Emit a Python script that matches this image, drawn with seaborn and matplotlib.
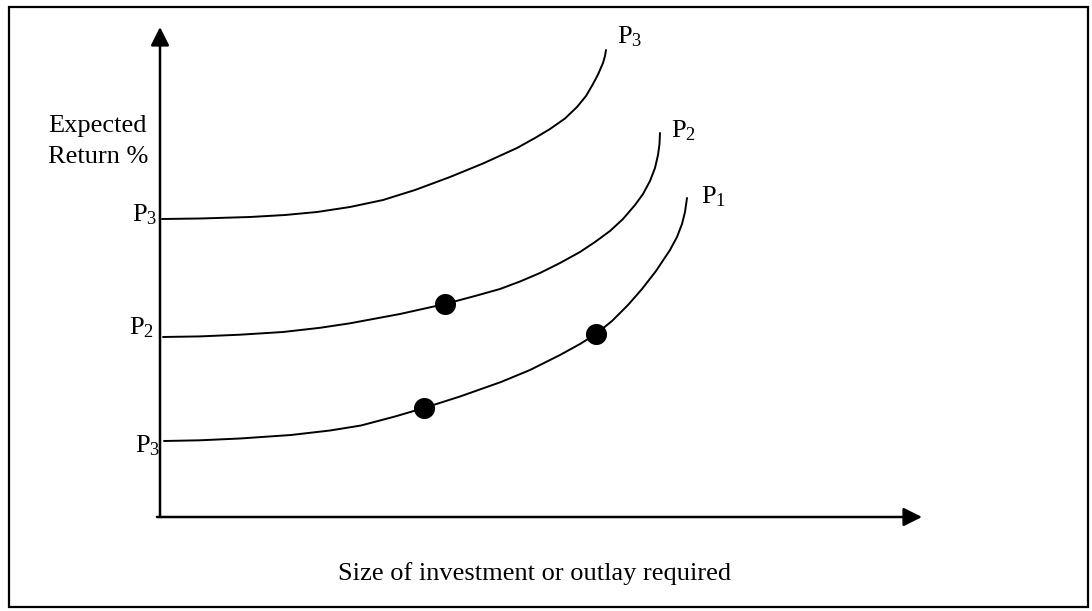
import numpy as np
import pandas as pd
import matplotlib
matplotlib.use('Agg')
import matplotlib.pyplot as plt
from matplotlib.patches import Rectangle
import seaborn as sns

# %% curve values (arbitrary units: size vs return)
p3_x = [0.2, 4.0, 9.0, 12.5, 15.7, 19.0, 22.3, 25.5, 29.0, 32.3, 35.7, 37.5,
        39.0, 40.5, 41.7, 42.6, 43.3, 43.8, 44.3, 44.5, 44.6]
p3_y = [29.8, 29.85, 30.0, 30.2, 30.5, 31.0, 31.7, 32.7, 34.0, 35.35, 36.9,
        37.9, 38.8, 39.85, 41.0, 42.1, 43.3, 44.25, 45.4, 46.1, 46.7]

p2_x = [0.3, 4.0, 8.0, 12.3, 16.0, 19.0, 24.0, 28.5, 31.5, 34.0, 36.0, 38.0,
        40.0, 42.0, 43.5, 45.0, 46.3, 47.5, 48.3, 49.0, 49.5, 49.8, 49.95,
        50.0]
p2_y = [18.0, 18.06, 18.23, 18.5, 18.92, 19.37, 20.3, 21.3, 22.1, 22.8,
        23.55, 24.4, 25.4, 26.5, 27.5, 28.6, 29.8, 31.2, 32.3, 33.6, 34.9,
        36.2, 37.3, 38.4]

p1_x = [0.4, 4.0, 8.0, 13.1, 17.0, 20.1, 23.5, 26.4, 30.0, 34.1, 37.0, 40.0,
        42.0, 43.6, 45.2, 46.8, 48.2, 49.6, 51.0, 51.7, 52.2, 52.5, 52.7]
p1_y = [7.6, 7.67, 7.85, 8.2, 8.65, 9.15, 10.05, 10.9, 12.05, 13.5, 14.7,
        16.2, 17.3, 18.3, 19.6, 21.2, 22.8, 24.6, 26.7, 28.0, 29.3, 30.5,
        31.9]

dot_x = [28.5, 26.4, 43.6]
dot_y = [21.3, 10.9, 18.3]

curve_names = ['P3', 'P2', 'P1']
end_labels = [r'$\mathrm{P_3}$', r'$\mathrm{P_2}$', r'$\mathrm{P_1}$']
axis_labels = [r'$\mathrm{P_3}$', r'$\mathrm{P_2}$', r'$\mathrm{P_3}$']

# %% build a long table for seaborn
curves = pd.concat([
    pd.DataFrame({'x': p3_x, 'y': p3_y, 'curve': 'P3'}),
    pd.DataFrame({'x': p2_x, 'y': p2_y, 'curve': 'P2'}),
    pd.DataFrame({'x': p1_x, 'y': p1_y, 'curve': 'P1'}),
], ignore_index=True)
dots = pd.DataFrame({'x': dot_x, 'y': dot_y})

sns.set_theme(style='white')
plt.rcParams['font.family'] = ['Liberation Serif', 'DejaVu Serif']
plt.rcParams['text.color'] = 'black'
plt.rcParams['mathtext.fontset'] = 'custom'
plt.rcParams['mathtext.rm'] = 'Liberation Serif'
plt.rcParams['mathtext.it'] = 'Liberation Serif:italic'

W, H = 1092, 611
fig = plt.figure(figsize=(W / 100, H / 100), dpi=100)
fig.patch.set_facecolor('white')
ax = fig.add_axes([160 / W, (H - 517) / H, (922 - 160) / W, (517 - 27) / H])

sns.lineplot(data=curves, x='x', y='y', hue='curve', hue_order=curve_names,
             palette=['black'] * 3, linewidth=1.4, sort=False, legend=False,
             estimator=None, ax=ax)
sns.scatterplot(data=dots, x='x', y='y', color='black', s=230,
                edgecolor='black', linewidth=0, zorder=5, ax=ax)

ax.set_xlim(0, 76.2)
ax.set_ylim(0, 49.0)
ax.set_axis_off()

# axes drawn as arrows
arrow = dict(arrowstyle='-|>,head_length=0.4,head_width=0.2', lw=1.8,
             color='black', mutation_scale=28, shrinkA=0, shrinkB=0)
ax.annotate('', xy=(1, 0), xytext=(-0.004, 0), xycoords='axes fraction',
            arrowprops=arrow)
ax.annotate('', xy=(0, 1), xytext=(0, 0), xycoords='axes fraction',
            arrowprops=arrow)

fs = 19
# labels at the curve ends
end_pos = [(45.7, 47.4), (51.1, 38.0), (54.1, 31.4)]
for (tx, ty), lab in zip(end_pos, end_labels):
    ax.text(tx, ty, lab, fontsize=fs, ha='left', va='baseline', clip_on=False)

# labels on the y axis
axis_pos = [(-2.8, 29.6), (-3.1, 18.3), (-2.5, 6.5)]
for (tx, ty), lab in zip(axis_pos, axis_labels):
    ax.text(tx, ty, lab, fontsize=fs, ha='left', va='baseline', clip_on=False)

ax.text(-11.2, 38.5, 'Expected', fontsize=fs, ha='left', va='baseline',
        clip_on=False)
ax.text(-11.2, 35.4, 'Return %', fontsize=fs, ha='left', va='baseline',
        clip_on=False)
ax.text(37.5, -6.3, 'Size of investment or outlay required', fontsize=fs,
        ha='center', va='baseline', clip_on=False)

# frame round the whole picture
fig.add_artist(Rectangle((9 / W, (H - 607) / H), (1088 - 9) / W,
                         (607 - 7) / H, transform=fig.transFigure,
                         fill=False, lw=1.6, edgecolor='black'))

fig.savefig('out.png', dpi=100)
plt.close(fig)
